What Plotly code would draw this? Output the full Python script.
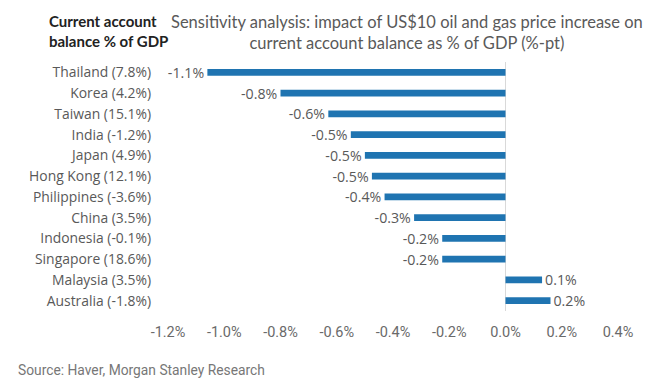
import plotly.graph_objects as go

countries = ["Thailand (7.8%)", "Korea (4.2%)", "Taiwan (15.1%)", "India (-1.2%)",
             "Japan (4.9%)", "Hong Kong (12.1%)", "Philippines (-3.6%)", "China (3.5%)",
             "Indonesia (-0.1%)", "Singapore (18.6%)", "Malaysia (3.5%)", "Australia (-1.8%)"]
impact = [-1.06, -0.80, -0.63, -0.55, -0.50, -0.475, -0.43, -0.325, -0.225, -0.225, 0.13, 0.16]
bar_labels = ["-1.1%", "-0.8%", "-0.6%", "-0.5%", "-0.5%", "-0.5%", "-0.4%", "-0.3%",
              "-0.2%", "-0.2%", "0.1%", "0.2%"]
x_ticks = [-1.2, -1.0, -0.8, -0.6, -0.4, -0.2, 0.0, 0.2, 0.4]
x_tick_labels = ["-1.2%", "-1.0%", "-0.8%", "-0.6%", "-0.4%", "-0.2%", "0.0%", "0.2%", "0.4%"]

GRAY = "#595959"
FONT = "Open Sans"

# page body has an 8px margin; the figure is sized so it fills the window
W, H = 654, 384
L, R, T, B = 160, 44, 54, 81
PW, PH = W - L - R, H - T - B

fig = go.Figure(go.Bar(
    x=impact, y=countries, orientation="h",
    marker=dict(color="#1f74b1", line=dict(width=0)),
    width=0.32,
    text=bar_labels, textposition="outside", cliponaxis=False, constraintext="none",
    textfont=dict(family=FONT, size=14.2, color=GRAY),
))


def px(xr):
    return (xr - 8 - L) / PW


def py(yr):
    return (H - (yr - 8) - B) / PH


fig.update_layout(
    width=W, height=H,
    margin=dict(l=L, r=R, t=T, b=B, autoexpand=False),
    paper_bgcolor="white", plot_bgcolor="white",
    showlegend=False,
    font=dict(family=FONT, color=GRAY),
    xaxis=dict(range=[-1.2, 0.4], tickvals=x_ticks, ticktext=x_tick_labels,
               showgrid=False, zeroline=True, zerolinecolor="#d9d9d9", zerolinewidth=1,
               showline=False, ticks="", ticklabelstandoff=10, automargin=False,
               tickfont=dict(family="Roboto", size=14.5, color="#6a6a6a")),
    yaxis=dict(categoryorder="array", categoryarray=countries[::-1],
               showgrid=False, showline=False, ticks="", ticklabelstandoff=16,
               automargin=False,
               tickfont=dict(family=FONT, size=13.9, color=GRAY)),
    annotations=[
        dict(text="<b>Current account</b><br><b>balance % of GDP</b>", x=px(47), y=py(10),
             xref="paper", yref="paper", showarrow=False, xanchor="left", yanchor="top",
             align="left", font=dict(family="Lato", size=15, color="#222222")),
        dict(text="Sensitivity analysis: impact of US$10 oil and gas price increase on<br>current account balance as % of GDP (%-pt)",
             x=px(407), y=py(10), xref="paper", yref="paper", showarrow=False,
             xanchor="center", yanchor="top", align="center",
             font=dict(family="Lato", size=16.5, color=GRAY)),
        dict(text="Source: Haver, Morgan Stanley Research", x=px(16), y=py(370),
             xref="paper", yref="paper", showarrow=False, xanchor="left", yanchor="middle",
             font=dict(family="Roboto", size=13.8, color="#777777")),
    ],
)

fig.write_html("out.html")
